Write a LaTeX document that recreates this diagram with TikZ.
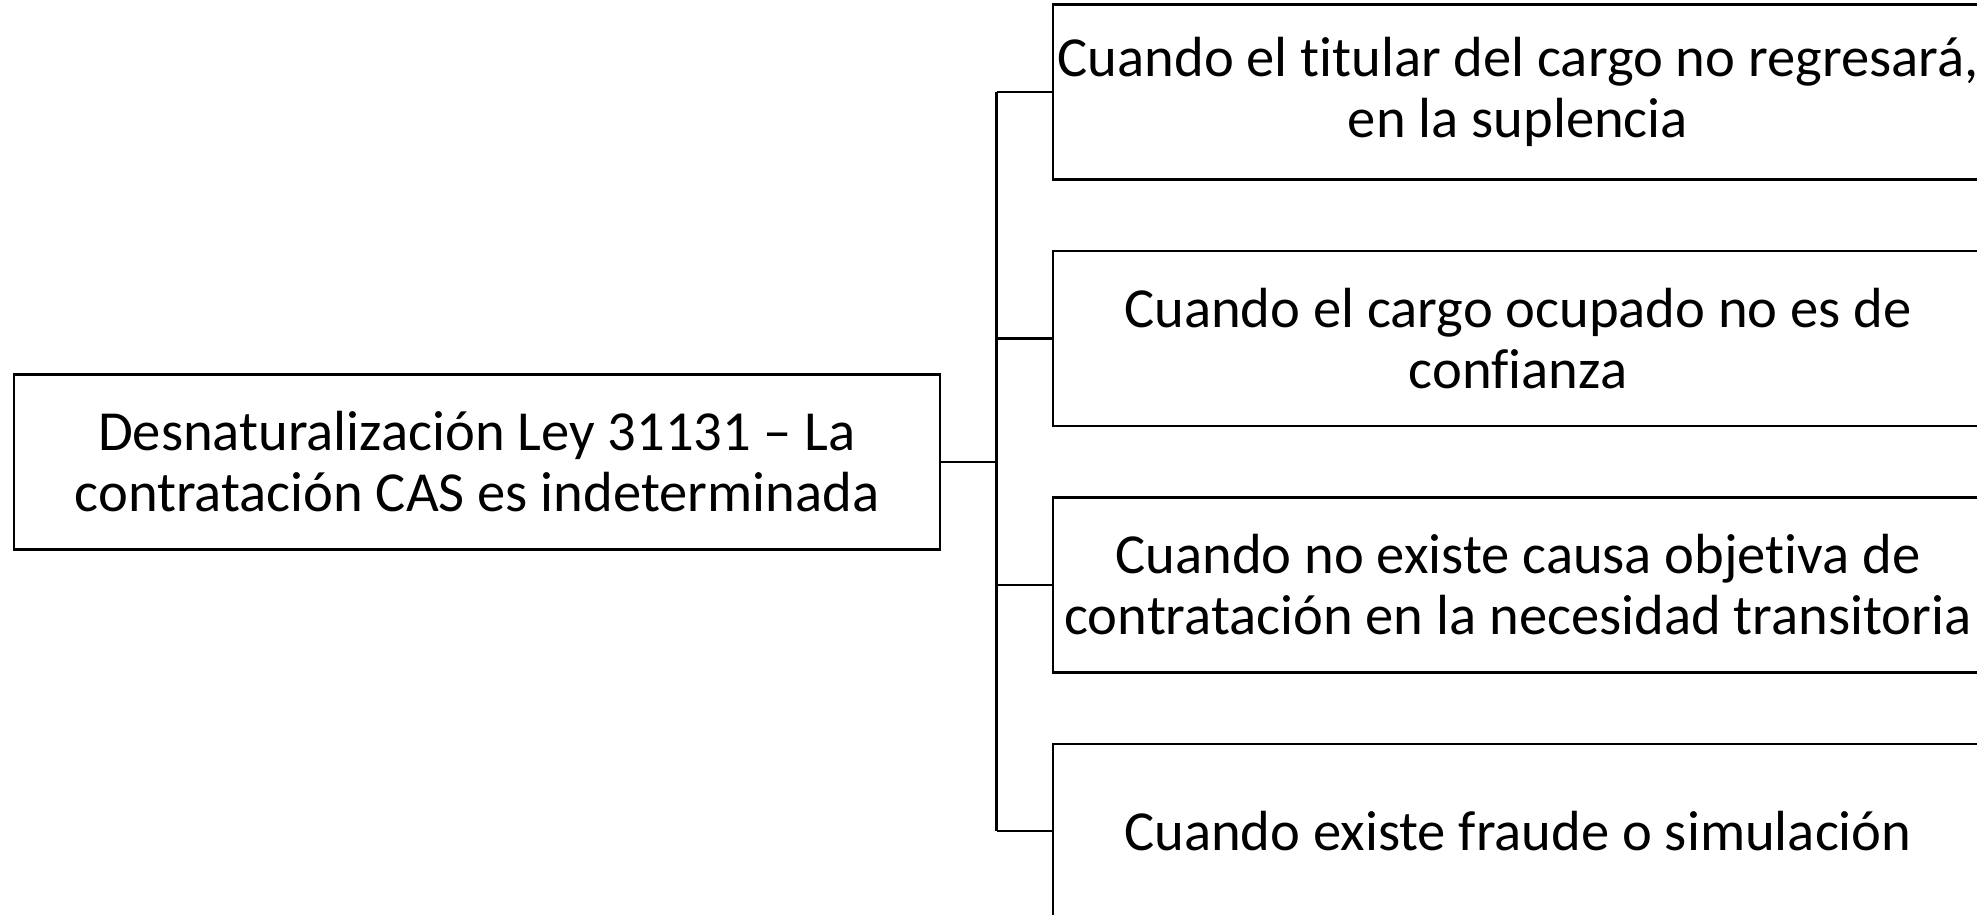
\documentclass[tikz,border=0pt]{standalone}
\usepackage{fontspec}
\setmainfont{Carlito}[Ligatures=NoCommon]
\usetikzlibrary{positioning,calc}
\tikzset{
    box/.style={draw, line width=1.2pt, align=center, inner sep=0pt,
        minimum width=465pt, minimum height=87.5pt,
        font=\fontsize{28.3}{30.5}\selectfont},
    link/.style={line width=1.2pt},
}

\begin{document}
\begin{tikzpicture}[x=0.5pt, y=-0.5pt]
    \path[use as bounding box, clip] (0,0) rectangle (1977,915);

    \node[box, minimum width=463pt] (root) at (477,462)
        {Desnaturalización Ley 31131 – La\\contratación CAS es indeterminada};

    \node[box] (c1) at (1518,92) {Cuando el titular del cargo no regresará,\\en la suplencia};
    \node[box, below=34.5pt of c1] (c2) {Cuando el cargo ocupado no es de\\confianza};
    \node[box, below=34.5pt of c2] (c3) {Cuando no existe causa objetiva de\\contratación en la necesidad transitoria};
    \node[box, below=34.5pt of c3] (c4) {Cuando existe fraude o simulación};

    \coordinate (fork) at ($(root.east)!0.5!(root.east -| c1.west)$);
    \draw[link] (root.east) -- (fork);
    \draw[link] (fork |- c1.west) -- (fork |- c4.west);
    \foreach \c in {c1,c2,c3,c4}
        \draw[link] (fork |- \c.west) -- (\c.west);
\end{tikzpicture}
\end{document}
